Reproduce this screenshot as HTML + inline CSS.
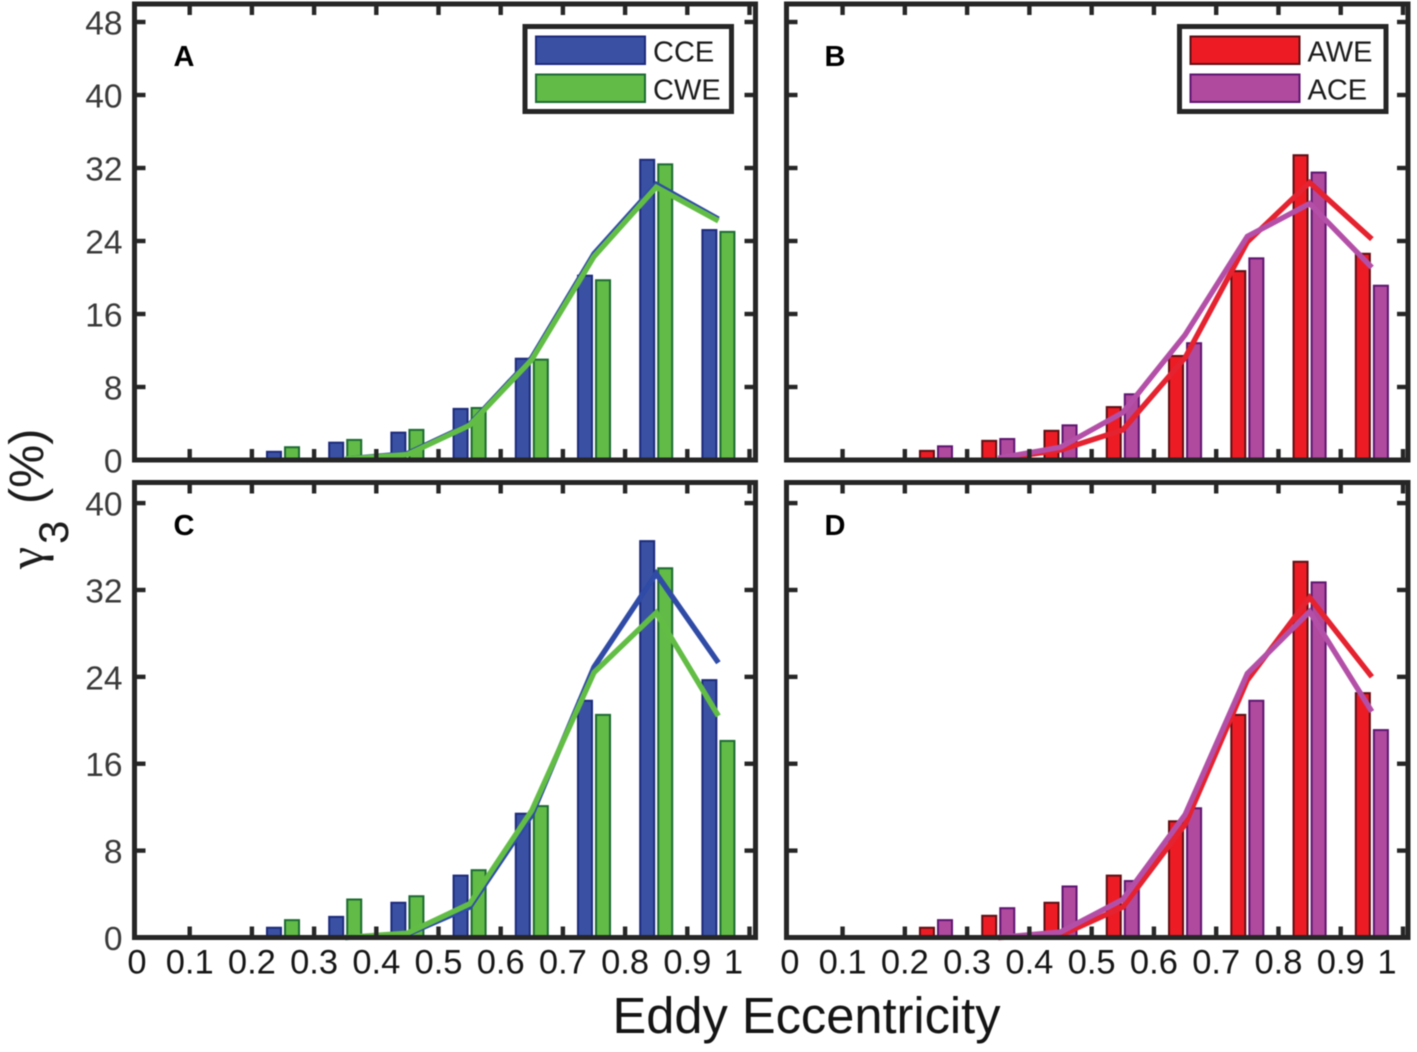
<!DOCTYPE html>
<html lang="en">
<head>
<meta charset="utf-8">
<title>Eddy Eccentricity Histograms</title>
<style>
html,body{margin:0;padding:0;background:#fff;width:1417px;height:1052px;overflow:hidden}
svg{display:block;font-family:"Liberation Sans",Arial,sans-serif;filter:blur(0.4px)}
</style>
</head>
<body>
<svg id="chart" xmlns="http://www.w3.org/2000/svg" width="1417" height="1052" viewBox="0 0 1417 1052">
  <rect x="0" y="0" width="1417" height="1052" fill="#ffffff"/>
  <text x="806.5" y="1033" font-size="50.6" text-anchor="middle" fill="#141414">Eddy Eccentricity</text>
  <text transform="rotate(-90)" fill="#1c1c1c"><tspan x="-569" y="43" font-size="50" font-family="'Liberation Serif',serif">γ</tspan><tspan x="-544" y="68" font-size="42">3</tspan><tspan x="-504" y="43" font-size="48.5">(%)</tspan></text>
</svg>
<script>
const binCenters = [0.25, 0.35, 0.45, 0.55, 0.65, 0.75, 0.85, 0.95];
const lineCenters = [0.35, 0.45, 0.55, 0.65, 0.75, 0.85, 0.95];
const xTickValues = [0, 0.1, 0.2, 0.3, 0.4, 0.5, 0.6, 0.7, 0.8, 0.9, 1];
const xTickLabels = ['0', '0.1', '0.2', '0.3', '0.4', '0.5', '0.6', '0.7', '0.8', '0.9', '1'];
const upperYTicks = [0, 8, 16, 24, 32, 40, 48];
const lowerYTicks = [0, 8, 16, 24, 32, 40];

const barsCCE_A = [0.9, 1.9, 3.0, 5.6, 11.1, 20.2, 32.9, 25.2];
const barsCWE_A = [1.4, 2.2, 3.3, 5.7, 11.0, 19.7, 32.4, 25.0];
const lineCCE_A = [0.1, 0.7, 3.9, 11.2, 22.6, 30.2, 26.4];
const lineCWE_A = [0.1, 0.6, 3.8, 11.0, 22.3, 29.9, 26.2];

const barsAWE_B = [1.0, 2.1, 3.2, 5.8, 11.4, 20.7, 33.4, 22.6];
const barsACE_B = [1.5, 2.3, 3.8, 7.2, 12.8, 22.1, 31.5, 19.1];
const lineAWE_B = [0.1, 1.1, 3.3, 11.2, 23.9, 30.4, 24.2];
const lineACE_B = [0.2, 1.4, 5.2, 13.7, 24.5, 28.1, 21.1];

const barsCCE_C = [0.9, 1.9, 3.2, 5.7, 11.4, 21.8, 36.5, 23.7];
const barsCWE_C = [1.6, 3.5, 3.8, 6.2, 12.1, 20.5, 34.0, 18.1];
const lineCCE_C = [0.0, 0.3, 2.8, 11.3, 24.9, 33.5, 25.3];
const lineCWE_C = [0.0, 0.4, 3.1, 11.7, 24.4, 29.9, 20.4];

const barsAWE_D = [0.9, 2.0, 3.2, 5.7, 10.7, 20.5, 34.6, 22.5];
const barsACE_D = [1.6, 2.7, 4.7, 5.2, 11.9, 21.8, 32.7, 19.1];
const lineAWE_D = [0.0, 0.2, 2.8, 10.4, 23.7, 31.3, 24.0];
const lineACE_D = [0.0, 0.5, 3.5, 11.3, 24.3, 30.0, 20.8];

const svg = document.getElementById('chart');
const NS = 'http://www.w3.org/2000/svg';
const INK = '#262626';

function shape(tag, attrs, parent) {
  const el = document.createElementNS(NS, tag);
  for (const k in attrs) el.setAttribute(k, attrs[k]);
  (parent || svg).appendChild(el);
  return el;
}

function drawPanel(p) {
  const x = v => p.x0 + p.xPerUnit * v;
  const y = v => p.yBase - p.yPerUnit * v;
  const g = shape('g', {});
  
  

  const barWidth = 0.0225;
  const barOffset = 0.0145;
  p.series.forEach((s, si) => {
    const dir = si === 0 ? -1 : 1;
    s.bars.forEach((val, i) => {
      const cx = binCenters[i] + dir * barOffset;
      const r = shape('rect', {
        x: x(cx - barWidth / 2), y: y(val),
        width: p.xPerUnit * barWidth, height: y(0) - y(val),
        fill: s.fill, stroke: s.edge, 'stroke-width': 2
      }, g);
      
      
    });
  });

  p.series.forEach(s => {
    const pts = s.line.map((val, i) => x(lineCenters[i]) + ',' + y(val)).join(' ');
    const l = shape('polyline', {
      points: pts, fill: 'none', stroke: s.lineColor,
      'stroke-width': 5.4, 'stroke-linejoin': 'miter'
    }, g);
    
    
  });

  const frame = shape('rect', {
    x: p.left, y: p.top, width: p.right - p.left, height: p.bottom - p.top,
    fill: 'none', stroke: INK, 'stroke-width': 5
  }, g);
  
  

  xTickValues.forEach((v, i) => {
    const tx = x(v);
    if (tx > p.left && tx < p.right) {
      const t1 = shape('rect', { x: tx - 2.2, y: p.bottom - 11, width: 4.4, height: 9, fill: INK }, g);
      
      
      const t2 = shape('rect', { x: tx - 2.2, y: p.top + 2, width: 4.4, height: 9, fill: INK }, g);
      
      
    }
    if (p.showXLabels) {
      const shift = v === 0 ? 9.5 : v === 1 ? -16 : 0;
      const lab = shape('text', {
        x: tx + shift, y: p.bottom + 36, 'font-size': 34.5,
        'text-anchor': 'middle', fill: '#161616'
      }, g);
      lab.textContent = xTickLabels[i];
      
      
    }
  });

  p.yTicks.forEach(v => {
    const ty = y(v);
    if (v > 0) {
      const t1 = shape('rect', { x: p.left + 2, y: ty - 2.2, width: 9, height: 4.4, fill: INK }, g);
      
      
      const t2 = shape('rect', { x: p.right - 11, y: ty - 2.2, width: 9, height: 4.4, fill: INK }, g);
      
      
    }
    if (p.showYLabels) {
      const lab = shape('text', {
        x: 122.5, y: ty + 12.5, 'font-size': 33.5,
        'text-anchor': 'end', fill: '#3a3a3a'
      }, g);
      lab.textContent = String(v);
      
      
    }
  });

  const letter = shape('text', {
    x: p.left + p.letterDx, y: p.top + p.letterDy, 'font-size': 29,
    'font-weight': 'bold', fill: '#000'
  }, g);
  letter.textContent = p.key.toUpperCase();
  
  

  if (p.legendX !== undefined) {
    const lg = shape('g', {}, g);
    
    
    const box = shape('rect', {
      x: p.legendX, y: 26.5, width: 206.5, height: 85,
      fill: '#fff', stroke: INK, 'stroke-width': 5
    }, lg);
    
    
    p.series.forEach((s, si) => {
      const rowY = 36.5 + si * 38;
      const sw = shape('rect', {
        x: p.legendX + 11, y: rowY, width: 109, height: 27.5,
        fill: s.fill, stroke: s.edge, 'stroke-width': 2
      }, lg);
      
      
      const tx = shape('text', {
        x: p.legendX + 128, y: rowY + 25, 'font-size': 29, fill: '#1c1c1c'
      }, lg);
      tx.textContent = s.name;
      
      
    });
  }
}

const BLUE = { fill: '#3a51a3', edge: '#1c2a7c', lineColor: '#2f4ba6' };
const GREEN = { fill: '#62bb46', edge: '#1c6a32', lineColor: '#62bd45' };
const RED = { fill: '#ed1c24', edge: '#5e0e13', lineColor: '#e5222f' };
const PURPLE = { fill: '#b04a9e', edge: '#5e1570', lineColor: '#b44fa8' };

const leftCol = { left: 134.5, right: 755.5, x0: 127.5, xPerUnit: 622, showYLabels: true, letterDx: 39 };
const rightCol = { left: 786.5, right: 1408, x0: 780.3, xPerUnit: 622.7, showYLabels: false, letterDx: 38 };
const topRow = { top: 4, bottom: 460, yBase: 460, yPerUnit: 9.125, yTicks: upperYTicks, showXLabels: false, letterDy: 62 };
const lowRow = { top: 482.5, bottom: 937.5, yBase: 937.5, yPerUnit: 10.86, yTicks: lowerYTicks, showXLabels: true, letterDy: 52.5 };

drawPanel(Object.assign({}, leftCol, topRow, { key: 'a', legendX: 525, series: [
  Object.assign({ name: 'CCE', bars: barsCCE_A, line: lineCCE_A }, BLUE),
  Object.assign({ name: 'CWE', bars: barsCWE_A, line: lineCWE_A }, GREEN)
]}));
drawPanel(Object.assign({}, rightCol, topRow, { key: 'b', legendX: 1179.5, series: [
  Object.assign({ name: 'AWE', bars: barsAWE_B, line: lineAWE_B }, RED),
  Object.assign({ name: 'ACE', bars: barsACE_B, line: lineACE_B }, PURPLE)
]}));
drawPanel(Object.assign({}, leftCol, lowRow, { key: 'c', series: [
  Object.assign({ name: 'CCE', bars: barsCCE_C, line: lineCCE_C }, BLUE),
  Object.assign({ name: 'CWE', bars: barsCWE_C, line: lineCWE_C }, GREEN)
]}));
drawPanel(Object.assign({}, rightCol, lowRow, { key: 'd', series: [
  Object.assign({ name: 'AWE', bars: barsAWE_D, line: lineAWE_D }, RED),
  Object.assign({ name: 'ACE', bars: barsACE_D, line: lineACE_D }, PURPLE)
]}));
</script>
</body>
</html>
